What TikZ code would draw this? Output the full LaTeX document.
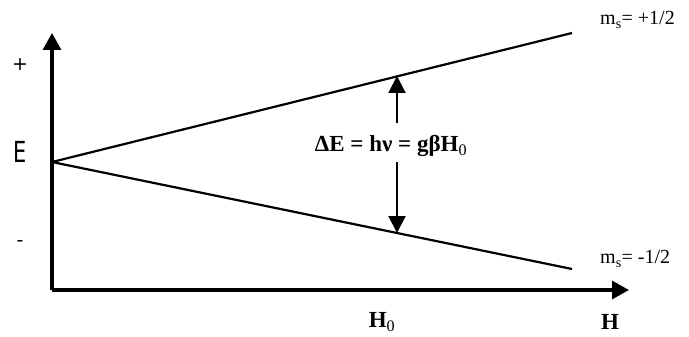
\documentclass[tikz,border=0pt]{standalone}
\usepackage{fontspec}
\setmainfont{Liberation Serif}
\newfontfamily\axisfont{DejaVu Sans}
\usetikzlibrary{arrows.meta, calc}
\tikzset{
  axis/.style={line width=3.2pt},
  level/.style={line width=2.2pt},
  gap/.style={line width=2pt},
  tipA/.style={-{Triangle[length=17pt, width=18pt]}},
  tipB/.style={-{Triangle[length=17pt, width=17pt]}},
  signlbl/.style={font=\axisfont\fontsize{19}{21}\selectfont, inner sep=0pt},
  msl/.style={font=\fontsize{20}{23}\selectfont, inner sep=0pt, anchor=west},
  hl/.style={font=\bfseries\fontsize{23}{27}\selectfont, inner sep=0pt},
}

\begin{document}
\begin{tikzpicture}[x=1pt, y=-1pt]
  \useasboundingbox (0,0) rectangle (689,337);

  % ----- axes ---------------------------------------------------------------
  \coordinate (c)    at (52,290);   % corner of the axes
  \coordinate (ytop) at (52,33);
  \coordinate (xend) at (629,290);
  \draw[axis,tipA] (c) -- (ytop);
  \draw[axis,tipA] (c) -- (xend);

  \node[signlbl] (plus)  at (20,65)  {+};
  \node[signlbl, font=\axisfont\fontsize{29}{31}\selectfont, xscale=0.72] (elbl) at (20,152) {E};
  \node[signlbl] (minus) at (20,244) {-};

  \node[hl] (h0) at (382,322) {H\textsubscript{\mdseries 0}};
  \node[hl] (hx) at (610,322) {H};

  % ----- Zeeman levels ------------------------------------------------------
  \coordinate (o)  at (52,162);     % zero-field level
  \coordinate (up) at (572,33);
  \coordinate (dn) at (572,269);
  \draw[level] (o) -- (up);
  \draw[level] (o) -- (dn);

  \node[msl] (msup) at (600,20)  {m\textsubscript{s}= +1/2};
  \node[msl] (msdn) at (600,259) {m\textsubscript{s}= -1/2};

  % ----- resonance gap ------------------------------------------------------
  \coordinate (pu) at (397,76);
  \coordinate (pd) at (397,233);
  \coordinate (su) at (397,123);
  \coordinate (sd) at (397,162);
  \node[hl] (de) at (391,146) {ΔE = hν = gβH\textsubscript{\mdseries 0}};
  \draw[gap,tipB] (su) -- (pu);
  \draw[gap,tipB] (sd) -- (pd);

\end{tikzpicture}
\end{document}
